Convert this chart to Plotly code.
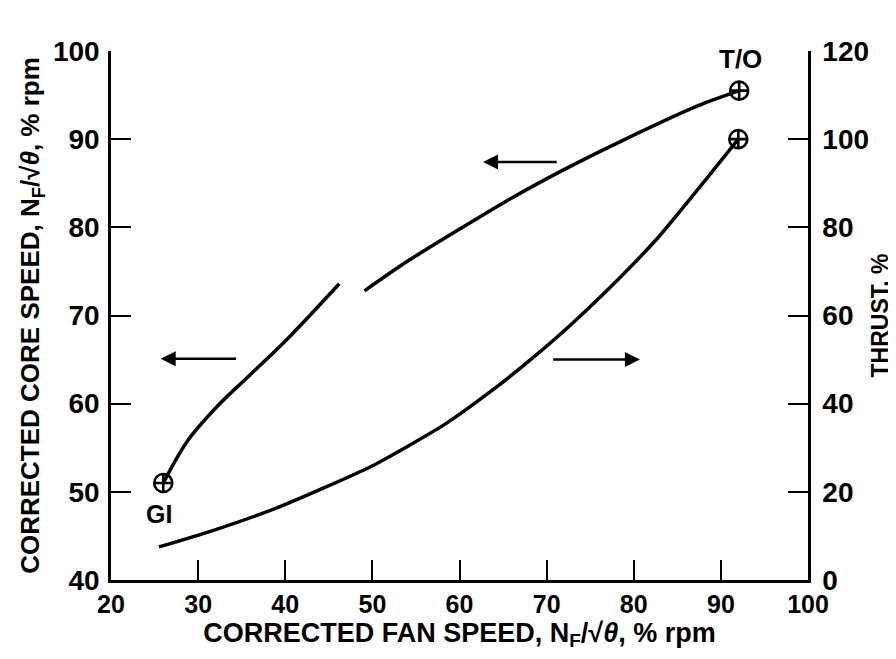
import plotly.graph_objects as go

# --- data ---
core_x1 = [26, 28.8, 32.2, 36.1, 40.3, 46.2]
core_y1 = [51, 55.8, 59.7, 63.4, 67.4, 73.6]
core_x2 = [49.1, 54.1, 65.6, 72.1, 78.4, 87.4, 92.1]
core_y2 = [72.8, 76.2, 83.1, 86.6, 89.7, 93.8, 95.5]

thrust_x = [25.5, 31.5, 39.1, 49.9, 58.3, 64.0, 67.5, 72.5, 77.1, 82.8, 88.5, 92.0]
thrust_y = [7.5, 11.1, 16.4, 25.8, 35.3, 43.4, 48.9, 57.4, 66.0, 77.7, 91.4, 100]

core_pts_x = [26, 92.1]
core_pts_y = [51, 95.5]
core_pts_lbl = ["GI", "T/O"]
thrust_pt_x = [92.0]
thrust_pt_y = [100]

x_ticks = [20, 30, 40, 50, 60, 70, 80, 90, 100]
y_ticks = [40, 50, 60, 70, 80, 90, 100]
y2_ticks = [0, 20, 40, 60, 80, 100, 120]

# arrows: (head_x, head_y, tail_x, tail_y, axis)
arrows = [
    (25.7, 65.1, 34.7, 65.1, "y"),
    (62.7, 87.4, 71.5, 87.4, "y"),
    (80.7, 50.0, 70.4, 50.0, "y2"),
]

FONT = "Liberation Sans, Arial, sans-serif"
LW = 3.5

fig = go.Figure()
for xs, ys, sm in [(core_x1, core_y1, 1.0), (core_x2, core_y2, 0.6)]:
    fig.add_trace(go.Scatter(x=xs, y=ys, mode="lines",
                             line=dict(color="black", width=LW, shape="spline", smoothing=sm),
                             hoverinfo="skip"))
fig.add_trace(go.Scatter(x=thrust_x, y=thrust_y, mode="lines", yaxis="y2",
                         line=dict(color="black", width=LW, shape="spline", smoothing=0.6),
                         hoverinfo="skip"))
fig.add_trace(go.Scatter(x=core_pts_x, y=core_pts_y, mode="markers",
                         marker=dict(symbol="circle-cross-open", size=18, color="black",
                                     line=dict(width=2.6, color="black"))))
fig.add_trace(go.Scatter(x=thrust_pt_x, y=thrust_pt_y, mode="markers", yaxis="y2",
                         marker=dict(symbol="circle-cross-open", size=18, color="black",
                                     line=dict(width=2.6, color="black"))))

anns = []
anns.append(dict(x=core_pts_x[0], y=core_pts_y[0], xref="x", yref="y", text=core_pts_lbl[0],
                 showarrow=False, yshift=-31, xshift=-4,
                 font=dict(family=FONT, size=25, color="black", weight="bold")))
anns.append(dict(x=core_pts_x[1], y=core_pts_y[1], xref="x", yref="y", text=core_pts_lbl[1],
                 showarrow=False, yshift=32, xshift=1,
                 font=dict(family=FONT, size=26, color="black", weight="bold")))
for hx, hy, tx, ty, ax in arrows:
    anns.append(dict(x=hx, y=hy, ax=tx, ay=ty, xref="x", yref=ax, axref="x", ayref=ax,
                     showarrow=True, arrowhead=2, arrowsize=1.2, arrowwidth=2.5,
                     arrowcolor="black", text=" ", font=dict(size=10)))

theta = "N<sub>F</sub>/√<i>θ</i>"
fig.update_layout(
    width=896, height=659,
    margin=dict(l=103, r=96, t=43, b=87),
    plot_bgcolor="white", paper_bgcolor="white",
    showlegend=False,
    font=dict(family=FONT, color="black"),
    annotations=anns,
    xaxis=dict(range=[20, 100], tickvals=x_ticks, ticks="inside", ticklen=20, tickwidth=2,
               tickcolor="black", showline=True, linewidth=2.5, linecolor="black",
               showgrid=False, zeroline=False, automargin=False,
               tickfont=dict(family=FONT, size=25, weight="bold"),
               title=dict(text="CORRECTED FAN SPEED, " + theta + ", % rpm",
                          font=dict(family=FONT, size=27, weight="bold"), standoff=6)),
    yaxis=dict(range=[40, 100], tickvals=y_ticks, ticks="inside", ticklen=20, tickwidth=2,
               tickcolor="black", showline=True, linewidth=2.5, linecolor="black",
               showgrid=False, zeroline=False, automargin=False, ticklabelstandoff=3,
               tickfont=dict(family=FONT, size=28, weight="bold"),
               title=dict(text="CORRECTED CORE SPEED, " + theta + ", % rpm",
                          font=dict(family=FONT, size=26, weight="bold"), standoff=6)),
    yaxis2=dict(range=[0, 120], tickvals=y2_ticks, overlaying="y", side="right",
                ticks="inside", ticklen=20, tickwidth=2, tickcolor="black",
                showline=True, linewidth=2.5, linecolor="black", ticklabelstandoff=6,
                showgrid=False, zeroline=False, automargin=False,
                tickfont=dict(family=FONT, size=28, weight="bold"),
                title=dict(text="THRUST, %", font=dict(family=FONT, size=23, weight="bold"),
                           standoff=4)),
)

fig.write_html("out.html")
